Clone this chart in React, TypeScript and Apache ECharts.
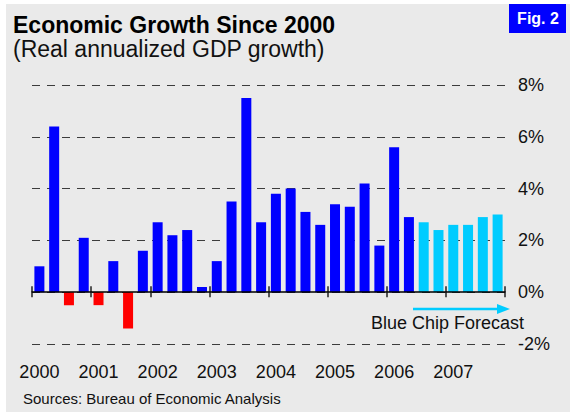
import React, { useEffect, useRef } from "react";
import * as echarts from "echarts";

const years = ["2000", "2001", "2002", "2003", "2004", "2005", "2006", "2007"];
const quarters = ["Q1", "Q2", "Q3", "Q4"];
// Real annualized GDP growth, % (actual through 2006 Q2)
const actualGrowth = [
  1.0, 6.4, -0.5, 2.1,
  -0.5, 1.2, -1.4, 1.6,
  2.7, 2.2, 2.4, 0.2,
  1.2, 3.5, 7.5, 2.7,
  3.8, 4.0, 3.1, 2.6,
  3.4, 3.3, 4.2, 1.8,
  5.6, 2.9,
];
// Blue Chip forecast, 2006 Q3 - 2007 Q4
const forecastGrowth = [2.7, 2.4, 2.6, 2.6, 2.9, 3.0];
const yTicks = { min: -2, max: 8, interval: 2 };

const FONT = "'Liberation Sans', Arial, Helvetica, sans-serif";

export default function App() {
  const ref = useRef<HTMLDivElement>(null);

  useEffect(() => {
    if (!ref.current) return;
    const chart = echarts.init(ref.current, undefined, { renderer: "svg" });

    const categories: string[] = [];
    years.forEach((y) => quarters.forEach((q) => categories.push(`${y} ${q}`)));

    const actualData = categories.map((_, i) =>
      i < actualGrowth.length ? actualGrowth[i] : "-"
    );
    const forecastData = categories.map((_, i) =>
      i >= actualGrowth.length ? forecastGrowth[i - actualGrowth.length] : "-"
    );

    const tickAxisBase = {
      type: "value" as const,
      min: 0,
      max: categories.length,
      interval: 4,
      axisLine: { show: false, onZero: true, onZeroAxisIndex: 0 },
      axisLabel: { show: false },
      splitLine: { show: false },
    };

    chart.setOption({
      animation: false,
      textStyle: { fontFamily: FONT },
      grid: { left: 32, right: 65, top: 85, bottom: 74, containLabel: false },
      xAxis: [
        {
          type: "category",
          data: categories,
          axisLine: { show: true, onZero: true, onZeroAxisIndex: 0, lineStyle: { color: "#000", width: 1.5 } },
          axisTick: { show: false },
          axisLabel: { show: false },
          splitLine: { show: false },
          z: 5,
        },
        {
          type: "category",
          data: categories,
          position: "bottom",
          axisLine: { show: false, onZero: false },
          axisTick: { show: false },
          axisLabel: {
            show: true,
            interval: 3,
            margin: 19,
            fontSize: 18,
            color: "#111",
            fontFamily: FONT,
            formatter: (v: string) => v.split(" ")[0],
          },
          splitLine: { show: false },
        },
        {
          ...tickAxisBase,
          axisTick: { show: true, inside: true, length: 5, lineStyle: { color: "#222", width: 1.5 } },
        },
        {
          ...tickAxisBase,
          axisTick: { show: true, inside: false, length: 6, lineStyle: { color: "#222", width: 1.5 } },
        },
      ],
      yAxis: {
        type: "value",
        position: "right",
        min: yTicks.min,
        max: yTicks.max,
        interval: yTicks.interval,
        axisLine: { show: false },
        axisTick: { show: false },
        axisLabel: {
          align: "left",
          margin: 13,
          fontSize: 18,
          color: "#111",
          fontFamily: FONT,
          formatter: "{value}%",
        },
        splitLine: {
          show: true,
          lineStyle: { color: "#3c3c3c", width: 1, type: [8, 7] },
        },
      },
      series: [
        {
          name: "Actual",
          type: "bar",
          xAxisIndex: 0,
          data: actualData,
          barWidth: 10,
          barGap: "-100%",
          itemStyle: {
            color: (p: any) => (p.value < 0 ? "#FF0000" : "#0000FF"),
          },
          z: 3,
        },
        {
          name: "Blue Chip Forecast",
          type: "bar",
          xAxisIndex: 0,
          data: forecastData,
          barWidth: 10,
          barGap: "-100%",
          itemStyle: { color: "#00CCFF" },
          z: 3,
        },
      ],
      graphic: [
        {
          type: "text",
          x: 13,
          y: 25,
          style: {
            text: "Economic Growth Since 2000",
            fontSize: 23,
            lineHeight: 21,
            fontWeight: "bold",
            fontFamily: FONT,
            fill: "#000",
            verticalAlign: "middle",
          },
        },
        {
          type: "text",
          x: 13,
          y: 48.5,
          style: {
            text: "(Real annualized GDP growth)",
            fontSize: 23,
            lineHeight: 21,
            fontFamily: FONT,
            fill: "#111",
            verticalAlign: "middle",
          },
        },
        {
          type: "rect",
          shape: { x: 509, y: 4, width: 57, height: 29 },
          style: { fill: "#0000FF" },
        },
        {
          type: "text",
          x: 538,
          y: 18,
          style: {
            text: "Fig. 2",
            fontSize: 16,
            fontWeight: "bold",
            fontFamily: FONT,
            fill: "#fff",
            align: "center",
            verticalAlign: "middle",
          },
        },
        {
          type: "line",
          shape: { x1: 413, y1: 309, x2: 500, y2: 309 },
          style: { stroke: "#00CCFF", lineWidth: 2.5 },
        },
        {
          type: "polygon",
          shape: { points: [[497, 304], [510, 309], [497, 314]] },
          style: { fill: "#00CCFF" },
        },
        {
          type: "text",
          x: 371,
          y: 323,
          style: {
            text: "Blue Chip Forecast",
            fontSize: 18,
            fontFamily: FONT,
            fill: "#111",
            verticalAlign: "middle",
          },
        },
        {
          type: "text",
          x: 23,
          y: 398,
          style: {
            text: "Sources: Bureau of Economic Analysis",
            fontSize: 15,
            fontFamily: FONT,
            fill: "#111",
            verticalAlign: "middle",
          },
        },
      ],
    });

    return () => chart.dispose();
  }, []);

  return (
    <div style={{ position: "fixed", left: 0, top: 0, width: 570, height: 418, background: "#fff" }}>
      <div style={{ position: "absolute", left: 6, top: 4, width: 564, height: 408, background: "#EAEAEA" }} />
      <div ref={ref} style={{ position: "absolute", left: 0, top: 0, width: 570, height: 418 }} />
    </div>
  );
}
